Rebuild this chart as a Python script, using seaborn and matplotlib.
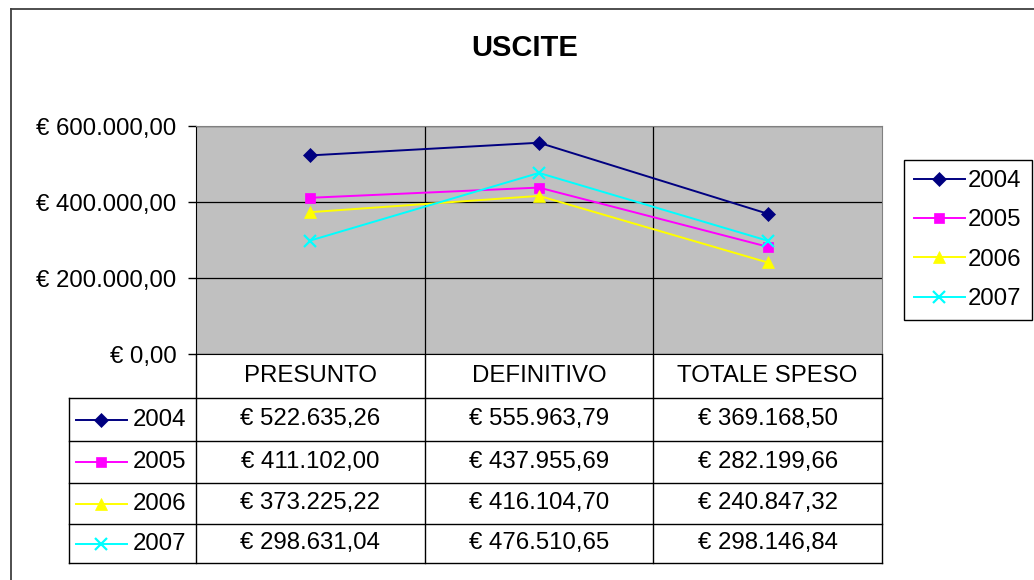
import pandas as pd
import seaborn as sns
import matplotlib
matplotlib.use('Agg')
import matplotlib.pyplot as plt
from matplotlib.lines import Line2D
from matplotlib.ticker import FuncFormatter

voci = ['PRESUNTO', 'DEFINITIVO', 'TOTALE SPESO']
anni = ['2004', '2005', '2006', '2007']
val_2004 = [522635.26, 555963.79, 369168.50]
val_2005 = [411102.00, 437955.69, 282199.66]
val_2006 = [373225.22, 416104.70, 240847.32]
val_2007 = [298631.04, 476510.65, 298146.84]
y_ticks = [0, 200000, 400000, 600000]

colori = {'2004': '#000080', '2005': '#FF00FF', '2006': '#FFFF00', '2007': '#00FFFF'}
marker = {'2004': 'D', '2005': 's', '2006': '^', '2007': 'x'}
msize = {'2004': 7.5, '2005': 7.5, '2006': 9, '2007': 8.5}

valori = {'2004': val_2004, '2005': val_2005, '2006': val_2006, '2007': val_2007}
df = pd.DataFrame([(a, v, x) for a in anni for v, x in zip(voci, valori[a])],
                  columns=['Anno', 'Voce', 'Importo'])

plt.rcParams['font.family'] = ['Liberation Sans', 'DejaVu Sans']
FS = 17.3


def euro(v, pos=None):
    s = f"{v:,.2f}".replace(',', 'X').replace('.', ',').replace('X', '.')
    return f"€ {s}"


W, H = 1034, 580
fig = plt.figure(figsize=(W / 100, H / 100), dpi=100)

# overlay in pixel per bordi e tabella
ov = fig.add_axes([0, 0, 1, 1], zorder=0)
ov.set_xlim(0, W)
ov.set_ylim(H, 0)
ov.axis('off')

L, R, T, B = 196, 882, 126, 354
ax = fig.add_axes([L / W, 1 - B / H, (R - L) / W, (B - T) / H], zorder=1)
ax.set_facecolor('#C0C0C0')

for a, g in df.groupby('Anno'):
    sns.lineplot(data=g, x='Voce', y='Importo', ax=ax, color=colori[a],
                 marker=marker[a], markersize=msize[a], markeredgecolor=colori[a],
                 markeredgewidth=1.6 if a == '2007' else 0.5, linewidth=1.4,
                 sort=False, legend=False)

ax.set_xlim(-0.5, len(voci) - 0.5)
ax.set_ylim(0, 600000)
ax.set_yticks(y_ticks)
ax.yaxis.set_major_formatter(FuncFormatter(euro))
ax.set_xticks([])
ax.set_xlabel('')
ax.set_ylabel('')
ax.tick_params(axis='y', direction='out', length=6, width=1, pad=8, labelsize=FS, colors='black')
ax.yaxis.grid(True, color='black', linewidth=0.9)
ax.set_axisbelow(True)
for i in range(1, len(voci)):
    ax.axvline(i - 0.5, color='black', linewidth=0.9, zorder=0.5)
ax.spines['left'].set_color('black')
ax.spines['bottom'].set_color('black')
ax.spines['top'].set_color('#808080')
ax.spines['right'].set_color('#808080')

# legenda a destra
handles = [Line2D([], [], color=colori[a], marker=marker[a], markersize=msize[a],
                  markeredgecolor=colori[a], markeredgewidth=1.6 if a == '2007' else 0.5,
                  linewidth=1.4) for a in anni]
leg = ax.legend(handles, anni, loc='upper left', bbox_to_anchor=(904 / W, 1 - 160 / H),
                bbox_transform=fig.transFigure, fontsize=FS, frameon=True, fancybox=False,
                edgecolor='black', handlelength=2.1, handletextpad=0.15, labelspacing=0.72,
                borderpad=0.42, borderaxespad=0, framealpha=1)
leg.get_frame().set_linewidth(1)

# titolo
fig.text(525 / W, 1 - 48 / H, 'USCITE', ha='center', va='center', fontsize=21, fontweight='bold')

# bordo esterno
ov.plot([11, W], [9, 9], color='#404040', lw=1.3)
ov.plot([11, 11], [9, H], color='#404040', lw=1.3)

# tabella dati
col_x = [L + (R - L) * (i + 0.5) / len(voci) for i in range(len(voci))]
righe = [398, 441, 483, 524, 563]
key_l = 69
for x in [L + (R - L) * i / len(voci) for i in range(len(voci) + 1)]:
    ov.plot([x, x], [B, righe[-1]], color='black', lw=1)
ov.plot([key_l, key_l], [righe[0], righe[-1]], color='black', lw=1)
for y in righe:
    ov.plot([key_l, R], [y, y], color='black', lw=1)

for v, x in zip(voci, col_x):
    ov.text(x, (B + righe[0]) / 2, v, ha='center', va='center', fontsize=FS)

for i, a in enumerate(anni):
    yc = (righe[i] + righe[i + 1]) / 2
    ov.plot([76, 127], [yc, yc], color=colori[a], lw=1.4)
    ov.plot([101], [yc], color=colori[a], marker=marker[a], markersize=msize[a],
            markeredgecolor=colori[a], markeredgewidth=1.6 if a == '2007' else 0.5)
    ov.text(186, yc, a, ha='right', va='center', fontsize=FS)
    for x, val in zip(col_x, valori[a]):
        ov.text(x, yc, euro(val), ha='center', va='center', fontsize=FS)

fig.savefig('out.png', dpi=100)
